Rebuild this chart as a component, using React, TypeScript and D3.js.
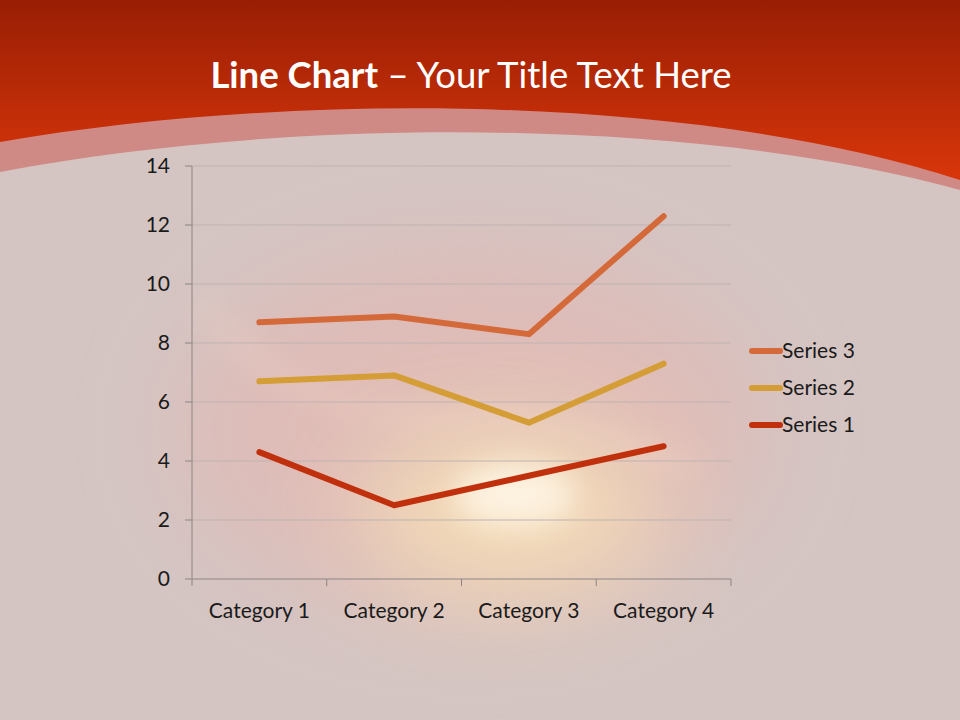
import React, { useEffect, useRef } from "react";
import * as d3 from "d3";

const categories = ["Category 1", "Category 2", "Category 3", "Category 4"];
const seriesNames = ["Series 1", "Series 2", "Series 3"];
const series1 = [4.3, 2.5, 3.5, 4.5];
const series2 = [2.4, 4.4, 1.8, 2.8];
const series3 = [2, 2, 3, 5];
const yTicks = [0, 2, 4, 6, 8, 10, 12, 14];
const seriesColors = ["#c1300d", "#d49d35", "#d4693a"];

export default function App() {
  const ref = useRef<SVGSVGElement>(null);
  useEffect(() => {
    const svg = d3.select(ref.current);
    svg.selectAll("*").remove();
    const W = 960, H = 720;
    const defs = svg.append("defs");
    const top = defs.append("linearGradient").attr("id", "topg").attr("x1", 0).attr("y1", 0).attr("x2", 0).attr("y2", 1);
    top.append("stop").attr("offset", "0%").attr("stop-color", "#981e04");
    top.append("stop").attr("offset", "100%").attr("stop-color", "#d9360a");
    const blur = defs.append("filter").attr("id", "blur").attr("x", "-50%").attr("y", "-50%").attr("width", "200%").attr("height", "200%");
    blur.append("feGaussianBlur").attr("stdDeviation", 50);
    const blur2 = defs.append("filter").attr("id", "blur2").attr("x", "-50%").attr("y", "-50%").attr("width", "200%").attr("height", "200%");
    blur2.append("feGaussianBlur").attr("stdDeviation", 14);

    svg.append("rect").attr("width", W).attr("height", H).attr("fill", "#d4c5c3");
    // glow
    const glow = svg.append("g");
    glow.append("ellipse").attr("cx", 470).attr("cy", 430).attr("rx", 290).attr("ry", 180).attr("fill", "#e9b2ac").attr("opacity", 0.5).attr("filter", "url(#blur)");
    glow.append("ellipse").attr("cx", 510).attr("cy", 510).attr("rx", 150).attr("ry", 85).attr("fill", "#f8e2b8").attr("opacity", 0.85).attr("filter", "url(#blur)");
    glow.append("ellipse").attr("cx", 515).attr("cy", 495).attr("rx", 60).attr("ry", 32).attr("fill", "#fff6e6").attr("opacity", 0.85).attr("filter", "url(#blur2)");
    glow.append("path").attr("d", "M200,300 C260,380 340,420 470,420 C560,420 620,440 700,470")
      .attr("fill", "none").attr("stroke", "#f6d8c8").attr("stroke-width", 10).attr("opacity", 0.5).attr("filter", "url(#blur2)");

    // header
    svg.append("path").attr("d", `M0,0 H${W} V190 C700,118 300,115 0,172 Z`).attr("fill", "#d08a86");
    svg.append("path").attr("d", `M0,0 H${W} V180 C700,95 300,90 0,142 Z`).attr("fill", "url(#topg)");

    const title = svg.append("text").attr("x", 471).attr("y", 88).attr("text-anchor", "middle")
      .attr("fill", "#ffffff").attr("font-family", "Lato, 'Open Sans', sans-serif").attr("font-size", 36.5);
    title.append("tspan").attr("font-weight", "bold").text("Line Chart");
    title.append("tspan").text(" \u2013 Your Title Text Here");

    const left = 192, right = 731, yTop = 166, yBot = 579;
    const x = d3.scaleBand().domain(categories).range([left, right]);
    const y = d3.scaleLinear().domain([0, 14]).range([yBot, yTop]);
    const font = "Lato, 'Open Sans', sans-serif";
    const fs = 21;

    const g = svg.append("g");
    yTicks.forEach((t) => {
      if (t > 0) g.append("line").attr("x1", left).attr("x2", right).attr("y1", y(t)).attr("y2", y(t)).attr("stroke", "#bfb3b2").attr("stroke-width", 1);
      g.append("line").attr("x1", left - 7).attr("x2", left).attr("y1", y(t)).attr("y2", y(t)).attr("stroke", "#8c8484");
      g.append("text").attr("x", left - 22).attr("y", y(t)).attr("dy", "0.35em").attr("text-anchor", "end")
        .attr("font-family", font).attr("font-size", fs).attr("fill", "#1a1a1a").text(String(t));
    });
    g.append("line").attr("x1", left).attr("x2", left).attr("y1", yTop).attr("y2", yBot).attr("stroke", "#8c8484");
    g.append("line").attr("x1", left).attr("x2", right).attr("y1", yBot).attr("y2", yBot).attr("stroke", "#8c8484");
    const edges = categories.map((c) => x(c) as number).concat([right]);
    edges.forEach((e) => g.append("line").attr("x1", e).attr("x2", e).attr("y1", yBot).attr("y2", yBot + 7).attr("stroke", "#8c8484"));
    categories.forEach((c) => {
      g.append("text").attr("x", (x(c) as number) + x.bandwidth() / 2).attr("y", 611).attr("dy", "0.35em").attr("text-anchor", "middle")
        .attr("font-family", font).attr("font-size", fs).attr("fill", "#1a1a1a").text(c);
    });

    const rows = categories.map((c, i) => ({ c, s1: series1[i], s2: series2[i], s3: series3[i] }));
    const stacked = d3.stack<any>().keys(["s1", "s2", "s3"])(rows);
    const line = d3.line<any>().x((d) => (x(d.data.c) as number) + x.bandwidth() / 2).y((d) => y(d[1]));
    stacked.forEach((s, i) => {
      g.append("path").attr("d", line(s as any) as string).attr("fill", "none").attr("stroke", seriesColors[i])
        .attr("stroke-width", 6).attr("stroke-linecap", "round").attr("stroke-linejoin", "round");
    });

    const legendY = [425, 388, 351];
    seriesNames.forEach((n, i) => {
      g.append("line").attr("x1", 752).attr("x2", 780).attr("y1", legendY[i]).attr("y2", legendY[i]).attr("stroke", seriesColors[i])
        .attr("stroke-width", 6).attr("stroke-linecap", "round");
      g.append("text").attr("x", 782).attr("y", legendY[i]).attr("dy", "0.35em").attr("font-family", font).attr("font-size", fs)
        .attr("fill", "#1a1a1a").text(n);
    });
  }, []);
  return <svg ref={ref} width={960} height={720} style={{ position: "absolute", left: 0, top: 0 }} />;
}
